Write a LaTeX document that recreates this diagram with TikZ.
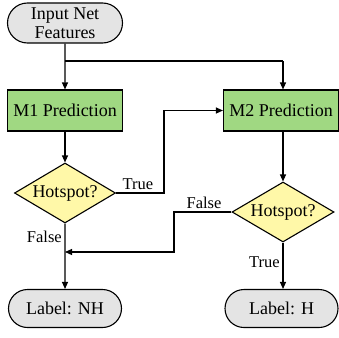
\documentclass[tikz,border=0pt]{standalone}
\usepackage{fontspec}
\setmainfont{Liberation Serif}
\usetikzlibrary{shapes.misc,shapes.geometric,arrows.meta}
\definecolor{termgray}{RGB}{228,228,228}
\definecolor{procgreen}{RGB}{160,216,130}
\definecolor{decyellow}{RGB}{255,248,168}
\begin{document}
\begin{tikzpicture}[x=1pt,y=-1pt,
  every node/.style={font=\fontsize{18}{19}\selectfont},
  term/.style={draw, line width=1.1pt, rounded rectangle, fill=termgray, minimum width=115pt, minimum height=38pt, inner sep=1pt, align=center},
  proc/.style={draw, line width=1.1pt, fill=procgreen, minimum width=115pt, minimum height=41pt, inner sep=1pt},
  dec/.style={draw, line width=1.1pt, diamond, fill=decyellow, aspect=1.7, inner sep=0pt, minimum width=101pt, minimum height=60pt},
  conn/.style={line width=1.1pt, -{Triangle[length=7pt,width=6pt]}},
  lab/.style={font=\fontsize{16.5}{18}\selectfont, inner sep=1pt}]
\useasboundingbox (0,0) rectangle (339,337);
\node[term, minimum height=40pt, inner sep=0pt] (in) at (65,23) {Input Net\\Features};
\node[proc] (m1) at (65,110.5) {M1 Prediction};
\node[proc] (m2) at (281,110.5) {M2 Prediction};
\node[dec] (d1) at (65,193) {Hotspot?};
\node[dec, minimum width=102pt] (d2) at (283,212) {Hotspot?};
\node[term] (nh) at (65,308.5) {Label: NH};
\node[term] (h) at (281.5,308.5) {Label: H};
\coordinate (br) at (65,61);
\coordinate (brr) at (283,61);
\coordinate (tc) at (164,193);
\coordinate (tu) at (164,110.5);
\coordinate (fa) at (174,212);
\coordinate (fb) at (174,252);
\coordinate (fj) at (65,252);
\draw[conn] (in) -- (m1);
\draw[line width=1.1pt] (br) -- (brr);
\draw[conn] (brr) -- (m2.north -| brr);
\draw[conn] (m1) -- (d1);
\draw[conn] (m2.south -| d2) -- (d2);
\draw[conn] (d1.east) -- (tc) -- (tu) -- (m2.west);
\draw[conn] (d1) -- (nh);
\draw[conn] (d2.west) -- (fa) -- (fb) -- (fj);
\draw[conn] (d2.south) -- (h.north -| d2);
\node[lab, anchor=south] at (138,191) {True};
\node[lab, anchor=east] at (63,237) {False};
\node[lab, anchor=south] at (204,210) {False};
\node[lab, anchor=east] at (281,262) {True};
\end{tikzpicture}
\end{document}
